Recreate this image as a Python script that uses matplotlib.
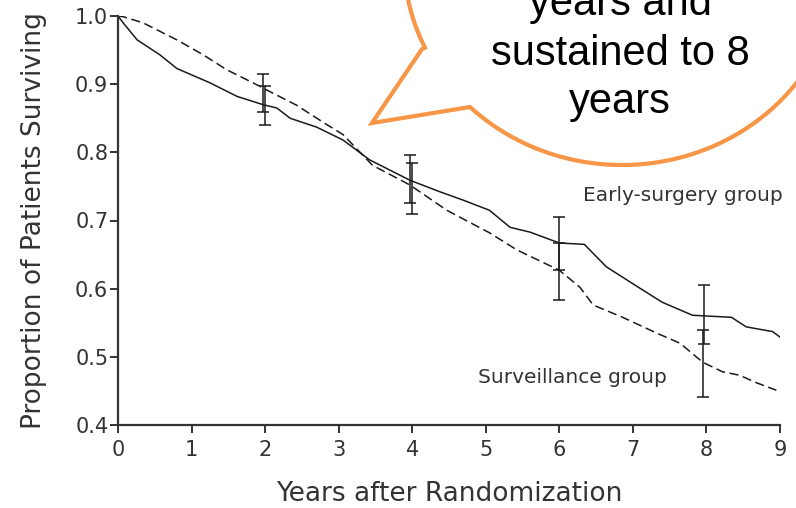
import matplotlib
matplotlib.use('Agg')
import matplotlib.pyplot as plt
import numpy as np

# survival curves
early_t = [0.0, 0.07, 0.26, 0.57, 0.80, 1.25, 1.62, 1.97, 2.16, 2.34, 2.70, 3.06,
           3.42, 3.97, 4.38, 4.69, 5.05, 5.33, 5.60, 6.0, 6.34, 6.64, 7.09, 7.40,
           7.81, 8.34, 8.54, 8.90, 9.0]
early_s = [1.0, 0.990, 0.965, 0.943, 0.923, 0.902, 0.882, 0.870, 0.865, 0.850, 0.837, 0.818,
           0.789, 0.759, 0.742, 0.730, 0.715, 0.690, 0.683, 0.667, 0.665, 0.632, 0.601, 0.580,
           0.561, 0.558, 0.544, 0.537, 0.529]

surv_t = [0.0, 0.07, 0.34, 0.80, 1.16, 1.48, 1.89, 2.03, 2.43, 2.79, 3.06, 3.46,
          3.97, 4.47, 5.05, 5.42, 6.0, 6.28, 6.46, 6.86, 7.32, 7.64, 7.95, 8.22,
          8.45, 8.68, 8.95]
surv_s = [1.0, 0.999, 0.990, 0.965, 0.943, 0.921, 0.899, 0.891, 0.869, 0.844, 0.826, 0.781,
          0.752, 0.715, 0.682, 0.657, 0.627, 0.602, 0.576, 0.558, 0.535, 0.520, 0.492, 0.478,
          0.473, 0.462, 0.451]

# confidence bars
early_bar_t = [2.0, 3.97, 6.0, 7.97]
early_bar_lo = [0.840, 0.726, 0.627, 0.519]
early_bar_hi = [0.897, 0.796, 0.705, 0.605]
surv_bar_t = [1.97, 4.0, 6.0, 7.95]
surv_bar_lo = [0.859, 0.710, 0.583, 0.441]
surv_bar_hi = [0.915, 0.784, 0.667, 0.539]

xticks = [0, 1, 2, 3, 4, 5, 6, 7, 8, 9]
yticks = [0.4, 0.5, 0.6, 0.7, 0.8, 0.9, 1.0]
bubble_lines = ['years and', 'sustained to 8', 'years']

txt = '#333333'
fig = plt.figure(figsize=(7.96, 5.08), dpi=100)
ax = fig.add_axes([118/796, 83/508, 662/796, 409/508])

ax.plot(early_t, early_s, color='#1a1a1a', lw=1.1)
ax.plot(surv_t, surv_s, color='#1a1a1a', lw=1.1, dashes=(6, 3))

for bt, lo, hi in [(early_bar_t, early_bar_lo, early_bar_hi),
                   (surv_bar_t, surv_bar_lo, surv_bar_hi)]:
    lo = np.array(lo)
    hi = np.array(hi)
    mid = (lo + hi) / 2
    ax.errorbar(bt, mid, yerr=[mid - lo, hi - mid], fmt='none',
                ecolor='#1a1a1a', elinewidth=1.1, capsize=4, capthick=1.1)

ax.text(6.32, 0.737, 'Early-surgery group', fontsize=14.5, color=txt, va='center')
ax.text(4.89, 0.470, 'Surveillance group', fontsize=14.5, color=txt, va='center')

ax.set_xlim(0, 9)
ax.set_ylim(0.4, 1.0)
ax.set_xticks(xticks)
ax.set_yticks(yticks)
ax.set_yticklabels(['%.1f' % v for v in yticks])
ax.spines['top'].set_visible(False)
ax.spines['right'].set_visible(False)
for s in ['left', 'bottom']:
    ax.spines[s].set_linewidth(1.6)
    ax.spines[s].set_color('#333333')
ax.tick_params(axis='both', direction='out', length=6, width=1.4,
               colors='#333333', labelsize=15, labelcolor=txt)
ax.tick_params(axis='y', pad=1)
ax.tick_params(axis='x', pad=5)
ax.set_xlabel('Years after Randomization', fontsize=19, color=txt, labelpad=15)
ax.set_ylabel('Proportion of Patients Surviving', fontsize=19, color=txt, labelpad=20)
ax.patch.set_alpha(0)

# speech bubble overlay in pixel coordinates
ov = fig.add_axes([0, 0, 1, 1])
ov.set_xlim(0, 796)
ov.set_ylim(508, 0)
ov.axis('off')
cx, cy, a, b = 622, -40, 218, 205
p1 = (422, 49)
p2 = (468, 109)
tip = (372, 123)
th1 = np.arctan2((p1[1] - cy) / b, (p1[0] - cx) / a)
th2 = np.arctan2((p2[1] - cy) / b, (p2[0] - cx) / a) + 2 * np.pi
th = np.linspace(th1, th2, 400)
xs = list(cx + a * np.cos(th)) + [tip[0], p1[0]]
ys = list(cy + b * np.sin(th)) + [tip[1], p1[1]]
ov.fill(xs, ys, facecolor='white', edgecolor='#F79646', lw=3, joinstyle='miter', clip_on=False)
for line, base in zip(bubble_lines, [15, 65, 113]):
    ov.text(620, base, line, fontsize=30, family='Liberation Sans', color='black',
            ha='center', va='baseline')

plt.savefig('out.png')
